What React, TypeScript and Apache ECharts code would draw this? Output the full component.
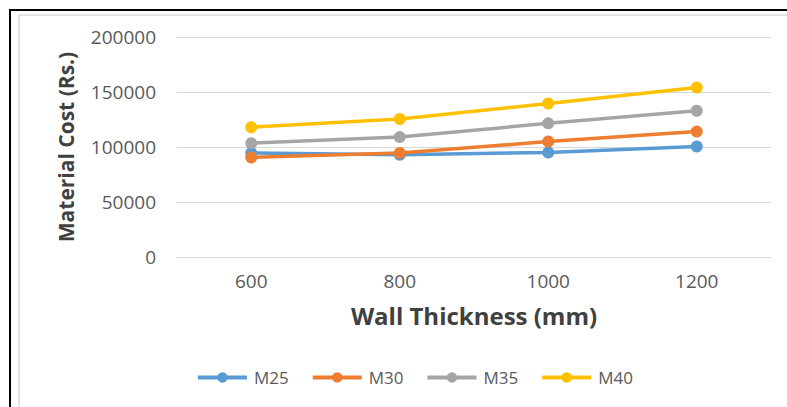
import React, { useEffect, useRef } from "react";
import * as echarts from "echarts";

// Wall thickness (mm) on the category axis
const thickness = ["600", "800", "1000", "1200"];

// Material cost (Rs.) for each concrete grade
const m25 = [94500, 93000, 95000, 100500];
const m30 = [90500, 94500, 105000, 114000];
const m35 = [103500, 109000, 121500, 133000];
const m40 = [118000, 125500, 139500, 154000];

const seriesNames = ["M25", "M30", "M35", "M40"];
const seriesColors = ["#5B9BD5", "#ED7D31", "#A5A5A5", "#FFC000"];
const seriesValues = [m25, m30, m35, m40];

const FONT = "'Open Sans', sans-serif";

export default function App() {
  const ref = useRef<HTMLDivElement>(null);

  useEffect(() => {
    if (!ref.current) return;
    const chart = echarts.init(ref.current, null, { renderer: "svg" });

    chart.setOption({
      animation: false,
      backgroundColor: "#ffffff",
      textStyle: { fontFamily: FONT },
      graphic: [
        // outer frame (black, top and left)
        { type: "rect", shape: { x: 9, y: 9, width: 800, height: 2 }, style: { fill: "#000000" } },
        { type: "rect", shape: { x: 9, y: 9, width: 2, height: 420 }, style: { fill: "#000000" } },
        // chart area border (light grey)
        {
          type: "rect",
          shape: { x: 19, y: 15, width: 800, height: 420 },
          style: { fill: "none", stroke: "#d9d9d9", lineWidth: 1.5 },
        },
      ],
      grid: { left: 177, right: 16, top: 37, bottom: 150, containLabel: false },
      legend: {
        left: 191,
        top: 364,
        itemWidth: 49,
        itemHeight: 13,
        itemGap: 22,
        data: seriesNames,
        lineStyle: { width: 4 },
        textStyle: { fontFamily: FONT, fontSize: 17, color: "#595959", padding: [0, 0, 0, 2] },
      },
      xAxis: {
        type: "category",
        data: thickness,
        boundaryGap: true,
        name: "Wall Thickness (mm)",
        nameLocation: "middle",
        nameGap: 46,
        nameTextStyle: { fontFamily: FONT, fontSize: 24, fontWeight: "bold", color: "#404040" },
        axisLine: { show: true, lineStyle: { color: "#d9d9d9", width: 1 } },
        axisTick: { show: false },
        axisLabel: { fontFamily: FONT, fontSize: 19, color: "#595959", margin: 14 },
      },
      yAxis: {
        type: "value",
        min: 0,
        max: 200000,
        interval: 50000,
        name: "Material Cost (Rs.)",
        nameLocation: "middle",
        nameGap: 101,
        nameTextStyle: { fontFamily: FONT, fontSize: 21, fontWeight: "bold", color: "#404040" },
        axisLine: { show: false },
        axisTick: { show: false },
        splitLine: { lineStyle: { color: "#d9d9d9", width: 1 } },
        axisLabel: {
          fontFamily: FONT,
          fontSize: 19,
          color: "#595959",
          margin: 21,
          formatter: (v: number) => String(v),
        },
      },
      series: seriesNames.map((name, i) => ({
        name,
        type: "line",
        data: seriesValues[i],
        symbol: "circle",
        symbolSize: 12,
        color: seriesColors[i],
        lineStyle: { width: 3.5, color: seriesColors[i] },
        itemStyle: { color: seriesColors[i] },
      })),
    });

    return () => chart.dispose();
  }, []);

  return (
    <div
      ref={ref}
      style={{ position: "fixed", left: 0, top: 0, width: 787, height: 407 }}
    />
  );
}
